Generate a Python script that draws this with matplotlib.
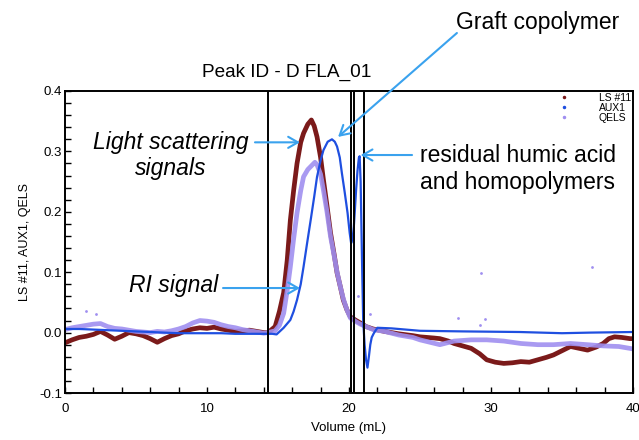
import numpy as np
import matplotlib
matplotlib.use('Agg')
import matplotlib.pyplot as plt
from matplotlib.ticker import MultipleLocator
from matplotlib.lines import Line2D

plt.rcParams['font.family'] = ['Liberation Sans', 'DejaVu Sans']

# LS #11 (light scattering)
ls_x = [0, 0.5, 1.0, 1.5, 2.0, 2.5, 3.0, 3.5, 4.0, 4.5, 5.0, 5.5, 6.0, 6.5, 7.0, 7.5,
        8.0, 8.5, 9.0, 9.5, 10.0, 10.5, 11.0, 11.5, 12.0, 12.5, 13.0, 13.5, 14.0, 14.3,
        14.8, 15.1, 15.4, 15.65, 15.87, 16.1, 16.34, 16.6, 16.8, 17.1, 17.35, 17.55, 17.75,
        18.0, 18.2, 18.45, 18.7, 18.95, 19.16, 19.4, 19.6, 19.85, 20.1, 20.5, 20.8, 21.2,
        21.7, 22.5, 23.5, 24.5, 25.0, 26.0, 26.4, 27.0, 27.4, 28.0, 28.6, 29.2, 29.7, 30.3,
        30.9, 31.5, 32.1, 32.7, 33.3, 33.9, 34.4, 35.0, 35.6, 36.2, 36.8, 37.4, 37.9, 38.3,
        38.7, 39.2, 39.8, 40.0]
ls_y = [-0.017, -0.012, -0.008, -0.006, -0.003, 0.002, -0.004, -0.011, -0.006, 0.000,
        -0.002, -0.005, -0.010, -0.016, -0.010, -0.005, -0.002, 0.003, 0.006, 0.008, 0.007,
        0.009, 0.006, 0.004, 0.002, 0.003, 0.004, 0.002, 0.000, 0.000,
        0.010, 0.035, 0.066, 0.120, 0.186, 0.235, 0.280, 0.315, 0.330, 0.345, 0.352, 0.342,
        0.324, 0.290, 0.253, 0.210, 0.165, 0.130, 0.099, 0.075, 0.054, 0.038, 0.026, 0.020,
        0.016, 0.010, 0.006, 0.002, -0.002, -0.005, -0.007, -0.009, -0.010, -0.014, -0.018,
        -0.022, -0.026, -0.035, -0.045, -0.049, -0.051, -0.050, -0.048, -0.049, -0.045,
        -0.041, -0.037, -0.030, -0.023, -0.026, -0.029, -0.024, -0.018, -0.010, -0.007,
        -0.008, -0.010, -0.010]

# QELS
qels_x = [0, 0.5, 1.0, 1.5, 2.0, 2.5, 3.0, 3.5, 4.0, 4.5, 5.0, 5.5, 6.0, 6.5, 7.0, 7.5,
          8.0, 8.5, 9.0, 9.5, 10.0, 10.5, 11.0, 11.5, 12.0, 12.5, 13.0, 13.5, 14.0, 14.3,
          14.8, 15.1, 15.4, 15.65, 15.87, 16.1, 16.34, 16.6, 16.8, 17.1, 17.35, 17.6, 17.75,
          18.0, 18.2, 18.45, 18.7, 18.95, 19.16, 19.4, 19.6, 19.85, 20.1, 20.5, 20.8, 21.2,
          21.7, 22.5, 23.5, 24.5, 25.0, 26.4, 27.4, 28.6, 29.7, 30.9, 32.1, 33.3, 34.4,
          35.6, 36.8, 37.9, 39.0, 40.0]
qels_y = [0.005, 0.008, 0.010, 0.012, 0.014, 0.015, 0.010, 0.007, 0.006, 0.004, 0.002,
          0.001, 0.000, 0.002, 0.001, 0.003, 0.006, 0.010, 0.016, 0.020, 0.019, 0.017, 0.013,
          0.010, 0.008, 0.005, 0.003, 0.001, -0.001, 0.000,
          0.003, 0.012, 0.032, 0.070, 0.109, 0.155, 0.198, 0.235, 0.258, 0.270, 0.276, 0.282,
          0.278, 0.262, 0.236, 0.200, 0.159, 0.128, 0.100, 0.075, 0.056, 0.038, 0.024, 0.018,
          0.014, 0.010, 0.005, 0.002, -0.004, -0.008, -0.012, -0.020, -0.014, -0.012, -0.012,
          -0.014, -0.018, -0.020, -0.020, -0.018, -0.020, -0.022, -0.023, -0.027]
# stray QELS points
qels_out_x = [1.5, 2.2, 20.6, 21.5, 27.7, 29.2, 29.3, 29.6, 37.1]
qels_out_y = [0.035, 0.030, 0.060, 0.030, 0.025, 0.012, 0.098, 0.023, 0.108]

# AUX1 (RI)
aux_x = [0, 1, 2, 3, 4, 5, 6, 7, 8, 9, 10, 11, 12, 13, 14, 14.6, 14.9, 15.4, 15.87, 16.1,
         16.34, 16.6, 16.8, 17.05, 17.3, 17.55, 17.75, 18.0, 18.2, 18.5, 18.8, 19.0, 19.16,
         19.35, 19.5, 19.7, 19.9, 20.05, 20.15, 20.25, 20.34, 20.42, 20.5, 20.6, 20.7, 20.75,
         20.82, 20.88, 20.94, 21.0, 21.1, 21.2, 21.3, 21.4, 21.5, 21.6, 21.75, 22.0, 23.0,
         25.0, 28.0, 32.0, 35.0, 37.0, 40.0]
aux_y = [0.006, 0.006, 0.005, 0.004, 0.003, 0.002, 0.001, 0.000, -0.001, -0.001, -0.001,
         -0.001, -0.002, -0.002, -0.002, -0.002, -0.003, 0.008, 0.021, 0.035, 0.054, 0.080,
         0.109, 0.148, 0.186, 0.225, 0.258, 0.285, 0.302, 0.316, 0.320, 0.316, 0.308, 0.290,
         0.264, 0.232, 0.198, 0.165, 0.148, 0.155, 0.175, 0.205, 0.236, 0.268, 0.290, 0.292,
         0.250, 0.170, 0.090, 0.020, -0.020, -0.045, -0.058, -0.040, -0.020, -0.008, -0.001,
         0.008, 0.007, 0.003, 0.002, 0.001, -0.001, 0.000, 0.001]

# peak markers
peak_lines = [14.3, 20.15, 20.35, 21.05]

ls_color = '#7b1a1a'
aux_color = '#1f4fe0'
qels_color = '#a08ff0'
arrow_color = '#3aa2ee'

fig = plt.figure(figsize=(6.39, 4.40), dpi=100)
ax = fig.add_axes([0.1017, 0.1068, 0.8889, 0.6864])

ax.plot(ls_x, ls_y, color=ls_color, linewidth=3.4, solid_capstyle='round')
ax.plot(qels_x, qels_y, color=qels_color, linewidth=3.4, alpha=0.9, solid_capstyle='round')
ax.scatter(qels_out_x, qels_out_y, s=4, color=qels_color, linewidths=0)
ax.plot(aux_x, aux_y, color=aux_color, linewidth=1.6)

for xv in peak_lines:
    ax.axvline(xv, color='black', linewidth=1.4)

ax.set_xlim(0, 40)
ax.set_ylim(-0.1, 0.4)
ax.xaxis.set_major_locator(MultipleLocator(10))
ax.xaxis.set_minor_locator(MultipleLocator(2))
ax.yaxis.set_major_locator(MultipleLocator(0.1))
ax.yaxis.set_minor_locator(MultipleLocator(0.02))
ax.yaxis.set_major_formatter(plt.FuncFormatter(lambda v, p: f'{v:.1f}'))
ax.tick_params(which='both', direction='in', top=False, right=False, length=4, width=1)
ax.tick_params(axis='x', labelsize=9.5, pad=7)
ax.tick_params(axis='y', labelsize=9.5, pad=2)
for sp in ax.spines.values():
    sp.set_linewidth(1.4)

ax.set_xlabel('Volume (mL)', fontsize=9.5, labelpad=5)
ax.set_ylabel('LS #11, AUX1, QELS', fontsize=9, labelpad=6)

# legend
handles = [Line2D([], [], linestyle='none', marker='.', markersize=3, color=c)
           for c in (ls_color, aux_color, qels_color)]
ax.legend(handles, ['LS #11', 'AUX1', 'QELS'], loc='upper right', fontsize=7.5,
          frameon=False, labelspacing=0.0, handlelength=2, handletextpad=2.3,
          borderaxespad=0.1, borderpad=0.1)

# annotations
big = 16.5
arrow = dict(arrowstyle='->,head_length=0.7,head_width=0.4', color=arrow_color, lw=1.5,
             shrinkA=0, shrinkB=0)
ax.text(15.6, 0.4315, 'Peak ID - D FLA_01', fontsize=13.7, ha='center', va='center',
        clip_on=False)
ax.text(7.43, 0.293, 'Light scattering\nsignals', fontsize=big, style='italic',
        ha='center', va='center', linespacing=1.2)
ax.annotate('', xy=(16.55, 0.315), xytext=(13.38, 0.315), arrowprops=arrow)
ax.text(7.64, 0.0788, 'RI signal', fontsize=big, style='italic', ha='center', va='center')
ax.annotate('', xy=(16.55, 0.0738), xytext=(11.13, 0.0738), arrowprops=arrow)
ax.text(33.3, 0.5126, 'Graft copolymer', fontsize=big, ha='center', va='center',
        clip_on=False)
ax.annotate('', xy=(19.23, 0.324), xytext=(27.6, 0.496), arrowprops=arrow,
            annotation_clip=False)
ax.text(25.0, 0.2709, 'residual humic acid\nand homopolymers', fontsize=big, ha='left',
        va='center', linespacing=1.2)
ax.annotate('', xy=(20.82, 0.294), xytext=(24.44, 0.294), arrowprops=arrow)

fig.savefig('out.png', dpi=100)
